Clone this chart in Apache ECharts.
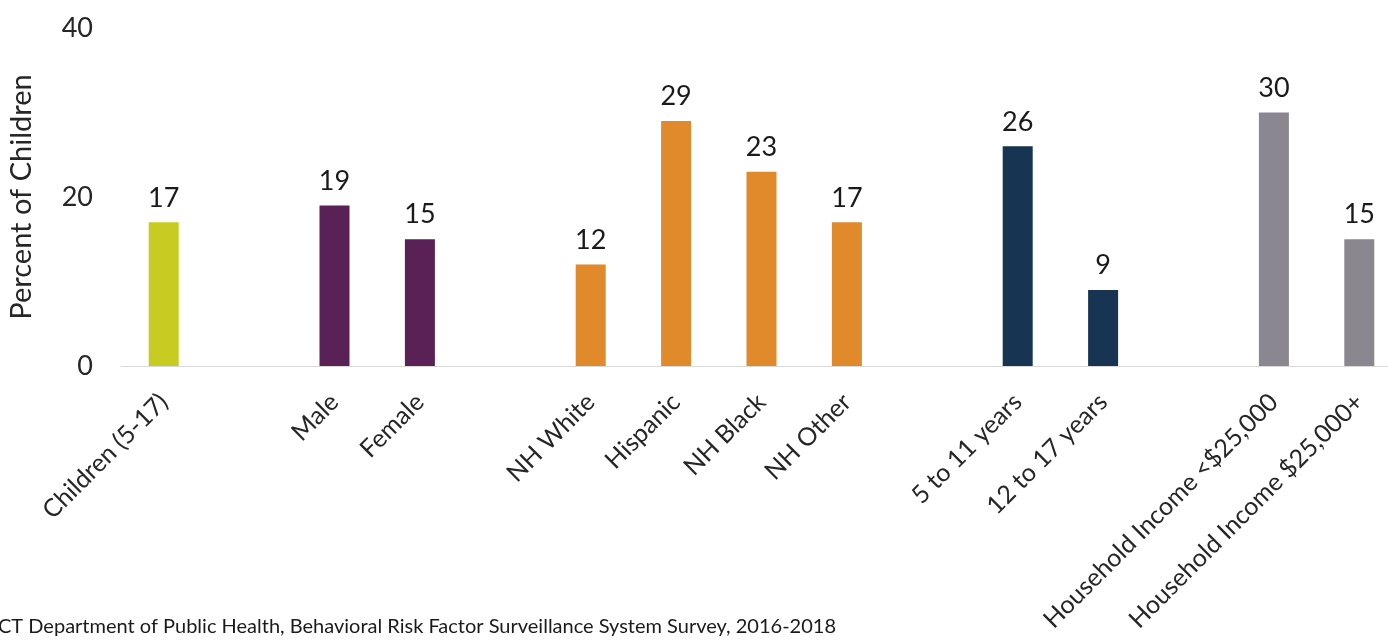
<!DOCTYPE html>
<html>
<head>
<meta charset="utf-8">
<script src="https://cdn.jsdelivr.net/npm/echarts@6/dist/echarts.min.js"></script>
<style>
  html, body { margin: 0; padding: 0; background: #ffffff; }
  #chart { width: 1388px; height: 640px; }
</style>
</head>
<body>
<div id="chart"></div>
<script>
// Categories, with empty slots separating the groups
const categories = [
  'Children (5-17)', '',
  'Male', 'Female', '',
  'NH White', 'Hispanic', 'NH Black', 'NH Other', '',
  '5 to 11 years', '12 to 17 years', '',
  'Household Income <$25,000', 'Household Income $25,000+'
];
// Percent of children, null where a gap sits
const values = [17, null, 19, 15, null, 12, 29, 23, 17, null, 26, 9, null, 30, 15];
// Group each category belongs to
const groups = ['all', '', 'sex', 'sex', '', 'race', 'race', 'race', 'race', '', 'age', 'age', '', 'income', 'income'];
const yTicks = [0, 20, 40];
const sourceNote = 'CT Department of Public Health, Behavioral Risk Factor Surveillance System Survey, 2016-2018';

const groupColors = {
  all: '#c8cc22',
  sex: '#5a2157',
  race: '#e08a2b',
  age: '#173552',
  income: '#8b8791'
};

const FONT = 'Lato, "Open Sans", sans-serif';
const chart = echarts.init(document.getElementById('chart'));

chart.setOption({
  animation: false,
  backgroundColor: '#ffffff',
  grid: {
    left: 121, width: 1281, top: 28, bottom: 274,
    containLabel: false,
    outerBoundsMode: 'none'
  },
  xAxis: {
    type: 'category',
    data: categories,
    axisLine: { show: true, lineStyle: { color: '#d9d9d9', width: 1 } },
    axisTick: { show: false },
    axisLabel: {
      interval: 0,
      rotate: 45,
      margin: 32,
      color: '#262626',
      fontFamily: FONT,
      fontSize: 25
    }
  },
  yAxis: {
    type: 'value',
    min: yTicks[0],
    max: yTicks[yTicks.length - 1],
    interval: yTicks[1] - yTicks[0],
    name: 'Percent of Children',
    nameLocation: 'middle',
    nameRotate: 90,
    nameGap: 85,
    nameTextStyle: { color: '#262626', fontFamily: FONT, fontSize: 29 },
    axisLine: { show: false },
    axisTick: { show: false },
    splitLine: { show: false },
    axisLabel: { margin: 28, color: '#262626', fontFamily: FONT, fontSize: 27 }
  },
  series: [{
    type: 'bar',
    barWidth: 30,
    data: values.map((v, i) => ({
      value: v,
      itemStyle: { color: groupColors[groups[i]] || '#999999' }
    })),
    label: {
      show: true,
      position: 'top',
      distance: 11,
      color: '#1a1a1a',
      fontFamily: FONT,
      fontSize: 27,
      formatter: p => (p.value == null ? '' : p.value)
    }
  }],
  graphic: [{
    type: 'text',
    left: -2,
    top: 617,
    style: { text: sourceNote, fill: '#1a1a1a', font: '20px ' + FONT }
  }]
});
</script>
</body>
</html>
